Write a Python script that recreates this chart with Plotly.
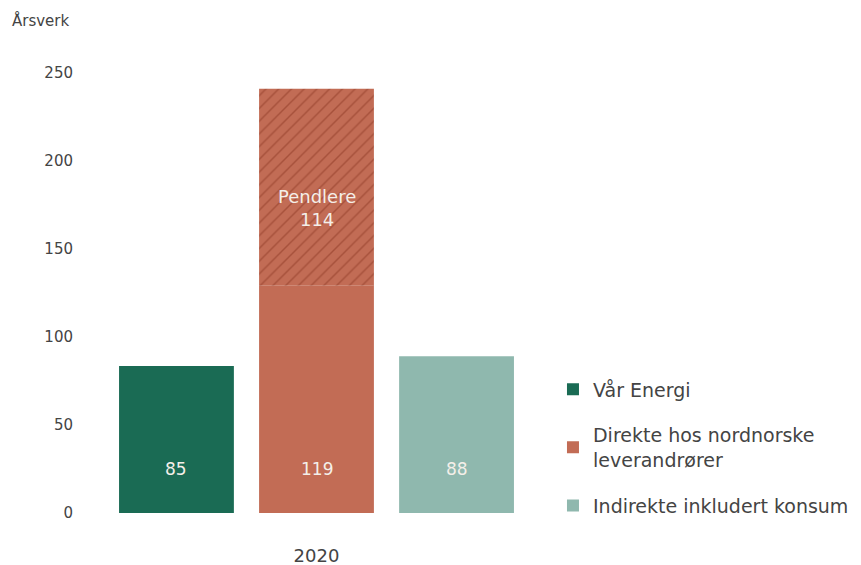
import plotly.graph_objects as go

# Data
year_label = "2020"
series_names = ["Vår Energi", "Direkte hos nordnorske<br>leverandrører", "Indirekte inkludert konsum"]
bar_positions = [0, 1, 2]
# bar heights
base_values = [83.5, 129, 89]
commuter_value = 112          # hatched "Pendlere" segment stacked on bar 2
# printed labels
base_labels = ["85", "119", "88"]
commuter_label = "Pendlere<br>114"
y_ticks = [0, 50, 100, 150, 200, 250]

colors = ["#1a6b54", "#c26c55", "#8fb8ae"]
hatch_color = "#8a3522"
text_color = "#444444"
font_family = "DejaVu Sans, sans-serif"

fig = go.Figure()
for i in range(3):
    fig.add_trace(go.Bar(
        x=[bar_positions[i]], y=[base_values[i]], name=series_names[i],
        marker=dict(color=colors[i], line=dict(width=0)),
        width=0.82, legendgroup=str(i), showlegend=True,
        hoverinfo="skip",
    ))
fig.add_trace(go.Bar(
    x=[bar_positions[1]], y=[commuter_value], name="Pendlere", base=[base_values[1]],
    marker=dict(color=colors[1], line=dict(width=0),
                pattern=dict(shape="/", fgcolor=hatch_color, bgcolor=colors[1], size=9, solidity=0.16)),
    width=0.82, showlegend=False, hoverinfo="skip",
))

# value labels
for i in range(3):
    fig.add_annotation(x=bar_positions[i], y=25, text=base_labels[i], showarrow=False,
                       font=dict(color="#f4efe9", size=17, family=font_family))
fig.add_annotation(x=bar_positions[1], y=173, text=commuter_label, showarrow=False,
                   font=dict(color="#f4efe9", size=18, family=font_family))

fig.add_annotation(xref="paper", yref="paper", x=0, y=1, xshift=-90, yshift=44,
                   xanchor="left", yanchor="middle", text="Årsverk", showarrow=False,
                   font=dict(color=text_color, size=15, family=font_family))

fig.update_layout(
    width=861, height=565,
    margin=dict(l=92, r=329, t=56, b=60),
    paper_bgcolor="white", plot_bgcolor="white",
    barmode="overlay",
    font=dict(family=font_family, color=text_color, size=16),
    xaxis=dict(range=[-0.546, 2.596], tickvals=[1], ticktext=[year_label],
               showgrid=False, zeroline=False, showline=False, ticks="",
               ticklabelstandoff=30, tickfont=dict(size=18), automargin=False),
    yaxis=dict(range=[0, 255], tickvals=y_ticks, showgrid=False, zeroline=False,
               showline=False, ticks="", ticklabelstandoff=26, tickfont=dict(size=15),
               automargin=False),
    legend=dict(x=1.0295, xanchor="left", y=-0.0255, yanchor="bottom",
                font=dict(size=19, color=text_color, family=font_family),
                tracegroupgap=18, bgcolor="rgba(0,0,0,0)"),
)

fig.write_html("out.html")
